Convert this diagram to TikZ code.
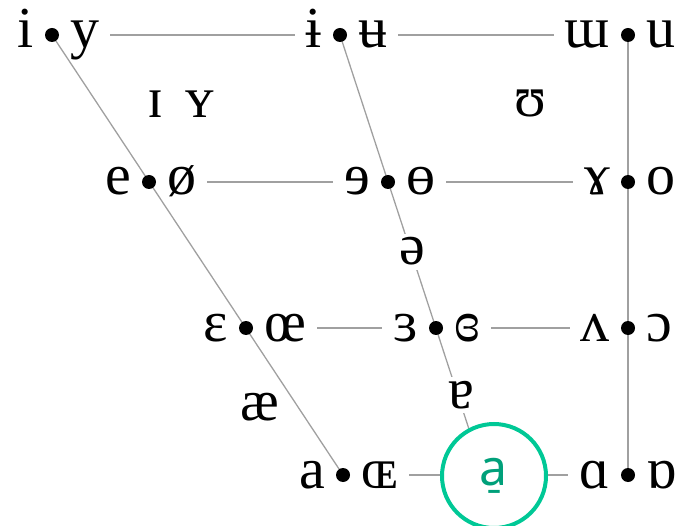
\documentclass[tikz,border=0pt]{standalone}
\usepackage{fontspec}
\setmainfont{Liberation Serif}
\newfontfamily\circfont{Noto Sans}
\definecolor{linegray}{HTML}{A0A0A0}
\definecolor{circgreen}{HTML}{00C896}
\definecolor{circtext}{HTML}{00A07A}
\tikzset{
  vline/.style={draw=linegray, line width=1.3pt},
  vdot/.style={circle, fill=black, inner sep=0pt, minimum size=14pt},
  vfont/.style={font=\fontsize{58}{58}\selectfont},
  lft/.style={vfont, anchor=base east, fill=white, inner xsep=11pt, inner ysep=1pt},
  rgt/.style={vfont, anchor=base west, fill=white, inner xsep=11pt, inner ysep=1pt},
  solo/.style={vfont, fill=white, inner sep=4pt, anchor=base},
  soloclear/.style={vfont, inner sep=1pt, anchor=base},
  ring/.style={circle, draw=circgreen, line width=4pt, fill=white, minimum size=104pt, inner sep=0pt,
    text=circtext, font=\circfont\fontsize{50}{50}\selectfont}
}
\begin{document}
\begin{tikzpicture}[x=1pt,y=-1pt]
\useasboundingbox (0,0) rectangle (690,526);
% dot positions
\coordinate (d11) at (52,35);
\coordinate (d12) at (340,35);
\coordinate (d13) at (628,35);
\coordinate (d21) at (149,182);
\coordinate (d22) at (388,182);
\coordinate (d23) at (628,182);
\coordinate (d31) at (246,328);
\coordinate (d32) at (436,328);
\coordinate (d33) at (628,328);
\coordinate (d41) at (343,475);
\coordinate (d42) at (484,475);
\coordinate (d43) at (628,475);
% horizontal connectors
\draw[vline] (d11) -- (d12) -- (d13);
\draw[vline] (d21) -- (d22) -- (d23);
\draw[vline] (d31) -- (d32) -- (d33);
\draw[vline] (d41) -- (d43);
% letter pairs
\foreach \d/\l/\r in {d11/i/y, d12/ɨ/ʉ, d13/ɯ/u, d21/e/ø, d22/ɘ/ɵ, d23/ɤ/o,
                      d31/ɛ/œ, d32/ɜ/ɞ, d33/ʌ/ɔ, d41/a/ɶ, d43/ɑ/ɒ}{
  \node[lft] (\d l) at ([xshift=-7pt,yshift=-13pt]\d) {\l};
  \node[rgt] (\d r) at ([xshift=7pt,yshift=-13pt]\d) {\r};
}
% slanted and vertical connectors
\draw[vline] (d11) -- (d41);
\draw[vline] (d12) -- (d42);
\draw[vline] (d13) -- (d43);
% dots
\foreach \d in {d11,d12,d13,d21,d22,d23,d31,d32,d33,d41,d43}{
  \node[vdot] (\d dot) at (\d) {};
}
% unpaired vowels
\node[soloclear] (smI) at (156,118) {ɪ};
\node[soloclear] (smY) at (200,118) {ʏ};
\node[soloclear] (smU) at (530,117) {ʊ};
\node[solo] (schwa) at (412,265) {ə};
\node[solo] (turna) at (461,408) {ɐ};
\node[soloclear] (ash) at (260,420) {æ};
% central open vowel highlight
\node[ring] (ring) at (494,476) {a̠};
\end{tikzpicture}
\end{document}
